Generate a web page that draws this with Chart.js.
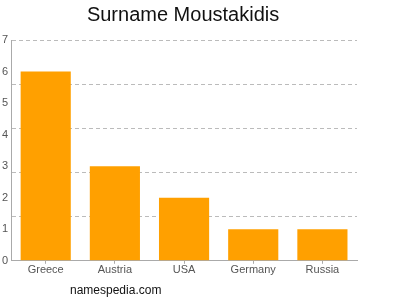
<!DOCTYPE html>
<html>
<head>
<meta charset="utf-8">
<script src="https://cdn.jsdelivr.net/npm/chart.js@4/dist/chart.umd.min.js"></script>
<style>
  html, body { margin: 0; padding: 0; background: #fff; }
  #wrap { width: 400px; height: 300px; }
</style>
</head>
<body>
<div id="wrap"><canvas id="chart" width="400" height="300"></canvas></div>
<script>
// surname counts by country
const countries = ['Greece', 'Austria', 'USA', 'Germany', 'Russia'];
const counts = [6, 3, 2, 1, 1];
const yTicks = [0, 1, 2, 3, 4, 5, 6, 7];
const gridLevels = [1.4, 2.8, 4.2, 5.6, 7];
const titleText = 'Surname Moustakidis';
const footerText = 'namespedia.com';

const FONT = '"Liberation Sans", Arial, sans-serif';

// title over the plot, site name under it
const textPlugin = {
    id: 'texts',
    afterDraw(chart) {
        const ctx = chart.ctx;
        const area = chart.chartArea;
        ctx.save();
        ctx.fillStyle = '#111';
        ctx.textAlign = 'center';
        ctx.textBaseline = 'middle';
        ctx.font = '20px ' + FONT;
        ctx.fillText(titleText, (area.left + area.right) / 2 - 1, 15);
        ctx.textAlign = 'left';
        ctx.font = '12px ' + FONT;
        ctx.fillText(footerText, 70, 291);
        ctx.restore();
    }
};

// labelled ticks and dashed grid levels share one axis
const allTicks = [...new Set([...yTicks, ...gridLevels])].sort((a, b) => a - b);

new Chart(document.getElementById('chart'), {
    type: 'bar',
    data: {
        labels: countries,
        datasets: [{
            data: counts,
            backgroundColor: '#ffa000',
            borderWidth: 0,
            categoryPercentage: 1,
            barPercentage: 0.725
        }]
    },
    options: {
        responsive: false,
        animation: false,
        layout: { padding: { top: 40, right: 43, bottom: 23, left: -1 } },
        plugins: {
            legend: { display: false },
            title: { display: false },
            tooltip: { enabled: false }
        },
        scales: {
            x: {
                grid: { display: true, drawOnChartArea: false, drawTicks: true, tickLength: 3, offset: false, color: '#aaa' },
                border: { display: true, color: '#aaa' },
                ticks: { color: '#555', font: { family: FONT, size: 11 }, padding: 0 }
            },
            y: {
                min: 0,
                max: 7,
                afterBuildTicks: s => { s.ticks = allTicks.map(v => ({ value: v })); },
                grid: {
                    drawTicks: false,
                    color: c => gridLevels.includes(c.tick && c.tick.value) ? '#bbb' : 'rgba(0,0,0,0)'
                },
                border: { display: true, color: '#aaa', dash: [4, 3] },
                ticks: {
                    color: '#555',
                    font: { family: FONT, size: 11 },
                    padding: 3,
                    autoSkip: false,
                    callback: v => yTicks.includes(v) ? String(v) : ''
                }
            }
        }
    },
    plugins: [textPlugin]
});
</script>
</body>
</html>
